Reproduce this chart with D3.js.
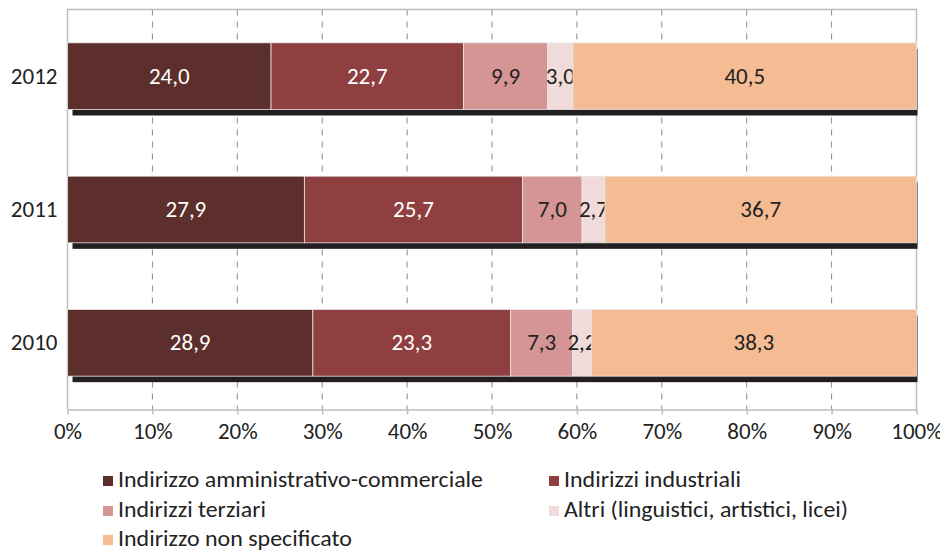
<!DOCTYPE html>
<html><head><meta charset="utf-8">
<script src="https://cdn.jsdelivr.net/npm/d3@7/dist/d3.min.js"></script>
<style>body{margin:0;background:#fff}svg text{font-family:Carlito,"Open Sans",sans-serif}</style>
</head><body><svg id="c" width="940" height="552"></svg>
<script>
const years = ["2012","2011","2010"];
const series = ["Indirizzo amministrativo-commerciale","Indirizzi industriali","Indirizzi terziari","Altri (linguistici, artistici, licei)","Indirizzo non specificato"];
const colors = ["#5c2e2c","#8f3f40","#d59594","#f0dbda","#f5bc93"];
const labelColors = ["#fff","#fff","#222","#222","#222"];
const v2012 = [24.0,22.7,9.9,3.0,40.5];
const v2011 = [27.9,25.7,7.0,2.7,36.7];
const v2010 = [28.9,23.3,7.3,2.2,38.3];
const xTicks = [0,10,20,30,40,50,60,70,80,90,100];

const rows = [v2012,v2011,v2010].map((v,i)=>{const o={year:years[i]};series.forEach((s,j)=>o[s]=v[j]);return o;});
const svg = d3.select("#c");
const L=67.5,R=916.5,T=9.5,B=409.5;
const FS=23;
const x = d3.scaleLinear().domain([0,100]).range([L,R]);
const y = d3.scaleBand().domain(years).range([T,B]).paddingInner(0.5).paddingOuter(0.25);
const stack = d3.stack().keys(series).offset(d3.stackOffsetExpand)(rows);

// grid
svg.append("g").selectAll("line").data(xTicks.slice(1,-1)).join("line")
 .attr("x1",d=>x(d)).attr("x2",d=>x(d)).attr("y1",T).attr("y2",B)
 .attr("stroke","#8a8a8a").attr("stroke-dasharray","6,6").attr("stroke-width",1);
// frame
svg.append("path").attr("d",`M${L},${B}V${T}H${R}V${B}`).attr("fill","none").attr("stroke","#bdbdbd").attr("stroke-width",1.5);

// shadows
svg.append("g").selectAll("rect").data(years).join("rect")
 .attr("x",x(0)+5).attr("width",x(100)-x(0)-4).attr("y",d=>y(d)+6).attr("height",y.bandwidth())
 .attr("fill","#231f20");

const g = svg.append("g");
stack.forEach((s,j)=>{
  g.append("g").selectAll("rect").data(s).join("rect")
   .attr("x",d=>x(d[0]*100)).attr("width",d=>x(d[1]*100)-x(d[0]*100))
   .attr("y",d=>y(d.data.year)).attr("height",y.bandwidth())
   .attr("fill",colors[j]).attr("stroke","#e8e8e8").attr("stroke-width",0.8);
  g.append("g").selectAll("text").data(s).join("text")
   .attr("x",d=>x((d[0]+d[1])*50)).attr("y",d=>y(d.data.year)+y.bandwidth()/2)
   .attr("dy","0.33em").attr("text-anchor","middle").attr("font-size",FS)
   .attr("fill",labelColors[j]).text(d=>d3.format(".1f")(d.data[series[j]]).replace(".",","));
});

// x axis
const ax = svg.append("g").attr("transform",`translate(0,${B})`)
 .call(d3.axisBottom(x).tickValues(xTicks).tickFormat(d=>d+"%").tickSize(5).tickSizeOuter(0));
ax.select(".domain").attr("stroke","#bdbdbd").attr("stroke-width",1.5);
ax.selectAll(".tick line").attr("stroke","#bdbdbd").attr("stroke-width",1.5);
ax.selectAll("text").attr("font-size",FS).attr("fill","#222").attr("y",29.5).attr("dy",0)
 .attr("font-family",null);

// y labels
svg.append("g").selectAll("text").data(years).join("text")
 .attr("x",L-10).attr("y",d=>y(d)+y.bandwidth()/2).attr("dy","0.33em")
 .attr("text-anchor","end").attr("font-size",FS).attr("fill","#222").text(d=>d);

// legend (baseline positions)
const legPos = [[103,487],[549,487],[103,517],[549,517],[103,546]];
const legLen = [365,177,148,284,234];
const lg = svg.append("g").selectAll("g").data(series).join("g")
 .attr("transform",(d,i)=>`translate(${legPos[i][0]},${legPos[i][1]})`);
lg.append("rect").attr("x",0).attr("y",-11).attr("width",10).attr("height",10).attr("fill",(d,i)=>colors[i]);
lg.append("text").attr("x",15).attr("font-size",FS).attr("fill","#222")
 .attr("textLength",(d,i)=>legLen[i]).attr("lengthAdjust","spacingAndGlyphs").text(d=>d);
</script></body></html>
